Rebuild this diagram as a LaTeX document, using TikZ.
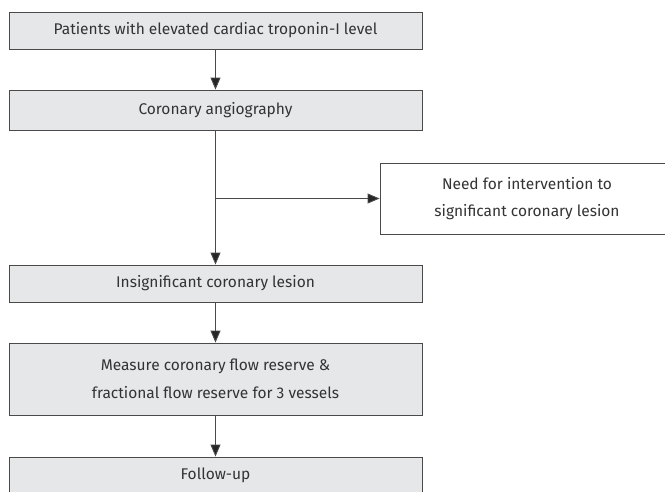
\documentclass[tikz,border=0pt]{standalone}
\usepackage{fontspec}
\setmainfont{Fira Sans}
\usetikzlibrary{arrows.meta, positioning}
\definecolor{boxgray}{HTML}{E6E7E8}
\definecolor{linegray}{HTML}{4A4A4A}
\definecolor{txtgray}{HTML}{333333}

\begin{document}
\begin{tikzpicture}[
    x=1pt, y=-1pt,
    box/.style={draw=linegray, fill=boxgray, line width=0.9pt, minimum width=413pt,
                inner sep=0pt, align=center, text=txtgray, font=\fontsize{15.5}{27.5}\selectfont},
    sidebox/.style={draw=linegray, fill=white, line width=0.9pt, minimum width=294pt,
                minimum height=71pt, inner sep=0pt, align=center, text=txtgray,
                font=\fontsize{15.5}{27.5}\selectfont},
    link/.style={draw=linegray, line width=0.9pt},
    >={Triangle[length=12pt, width=10pt, fill=black!85]},
]
\useasboundingbox (0,0) rectangle (665,491);
\clip (0,0) rectangle (665,491);
% --- main column --------------------------------------------------------------
\node[box, minimum height=37pt] (patients) at (215.5,30.5) {Patients with elevated cardiac troponin-I level};
\node[box, minimum height=40pt] (angio) at (215.5,110) {Coronary angiography};
\node[box, minimum height=37pt] (insig) at (215.5,283.5) {Insignificant coronary lesion};
\node[box, minimum height=72pt] (measure) at (215.5,379) {Measure coronary flow reserve \&\\fractional flow reserve for 3 vessels};
\node[box, minimum height=37pt] (follow) at (215.5,475.5) {Follow-up};
% --- side branch ----------------------------------------------------------------
\node[sidebox] (interv) at (527,198.5) {Need for intervention to\\significant coronary lesion};
\coordinate (split) at (angio.south |- interv.west);
\draw[link, ->] (patients) -- (angio);
\draw[link, ->] (angio) -- (insig);
\draw[link, ->] (split) -- (interv);
\draw[link, ->] (insig) -- (measure);
\draw[link, ->] (measure) -- (follow);
\end{tikzpicture}
\end{document}
